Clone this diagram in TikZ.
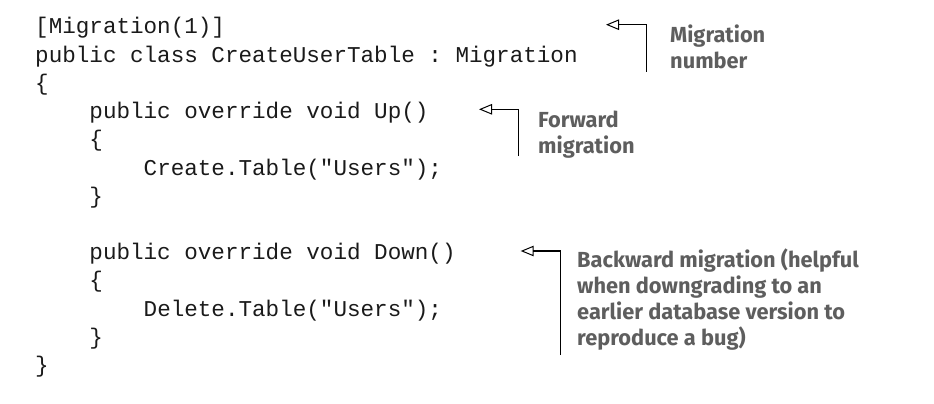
\documentclass[tikz,border=0pt]{standalone}
\usepackage{fontspec}
\setmonofont{Liberation Mono}
\newfontfamily\notefont{Fira Sans}
\usetikzlibrary{arrows.meta}
\definecolor{notegray}{HTML}{5E5E5E}
\definecolor{codeink}{HTML}{1A1A1A}
\tikzset{
  codeline/.style={anchor=base west, inner sep=0pt, text=codeink,
    font=\ttfamily\fontsize{22.6}{28.2}\selectfont},
  note/.style={anchor=base west, inner sep=0pt, text=notegray,
    font=\notefont\bfseries\fontsize{21.8}{26}\selectfont},
  ptr/.style={draw=black, line width=1.1pt,
    -{Triangle[open, length=13pt, width=10.5pt, line width=1pt]}},
}
\newcommand{\notelines}[1]{\vtop{\baselineskip=26pt\lineskiplimit=-20pt #1}}
\begin{document}
\begin{tikzpicture}[x=1pt,y=-1pt]
\useasboundingbox (0,0) rectangle (934,404);
\def\cx{35}
\node[codeline] (l1) at (\cx,34) {[Migration(1)]};
\node[codeline] (l2) at (\cx,62.2) {public class CreateUserTable : Migration};
\node[codeline] (l3) at (\cx,90.4) {\{};
\node[codeline] (l4) at (\cx,118.6) {\ \ \ \ public override void Up()};
\node[codeline] (l5) at (\cx,146.8) {\ \ \ \ \{};
\node[codeline] (l6) at (\cx,175) {\ \ \ \ \ \ \ \ Create.Table("Users");};
\node[codeline] (l7) at (\cx,203.2) {\ \ \ \ \}};
\node[codeline] (l9) at (\cx,259.6) {\ \ \ \ public override void Down()};
\node[codeline] (l10) at (\cx,287.8) {\ \ \ \ \{};
\node[codeline] (l11) at (\cx,316) {\ \ \ \ \ \ \ \ Delete.Table("Users");};
\node[codeline] (l12) at (\cx,344.2) {\ \ \ \ \}};
\node[codeline] (l13) at (\cx,372.4) {\}};

\node[note] (n1) at (670,43) {\notelines{\hbox{Migration}\hbox{number}}};
\node[note] (n2) at (538,127) {\notelines{\hbox{Forward}\hbox{migration}}};
\node[note] (n3) at (577,267) {\notelines{\hbox{Backward migration (helpful}\hbox{when downgrading to an}\hbox{earlier database version to}\hbox{reproduce a bug)}}};

\coordinate (t1) at (606,24.7);
\coordinate (b1) at (646.7,71.7);
\coordinate (t2) at (479,109.3);
\coordinate (b2) at (518.7,156);
\coordinate (t3) at (520.7,251);
\coordinate (b3) at (560.7,355);
\draw[ptr] (b1) |- (t1);
\draw[ptr] (b2) |- (t2);
\draw[ptr] (b3) |- (t3);
\end{tikzpicture}
\end{document}
